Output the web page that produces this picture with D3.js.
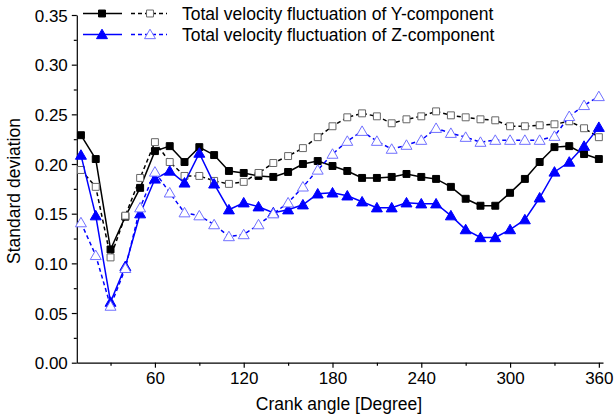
<!DOCTYPE html>
<head>
<meta charset="UTF-8">
<script src="https://d3js.org/d3.v7.min.js"></script>
<style>
  body { margin: 0; background: #fff; }
  text { font-family: Arial, "Liberation Sans", sans-serif; fill: #000; }
</style>
</head>
<body>
<svg width="614" height="415"></svg>
<script>
// Crank angle categories
var angles = [10, 20, 30, 40, 50, 60, 70, 80, 90, 100, 110, 120, 130, 140, 150, 160, 170, 180,
              190, 200, 210, 220, 230, 240, 250, 260, 270, 280, 290, 300, 310, 320, 330, 340, 350, 360];

// Y-component (solid, filled squares)
var yFilled = [0.229, 0.205, 0.114, 0.147, 0.176, 0.213, 0.218, 0.202, 0.217, 0.209, 0.193, 0.191,
               0.188, 0.187, 0.192, 0.200, 0.203, 0.198, 0.193, 0.186, 0.186, 0.187, 0.190, 0.187,
               0.185, 0.177, 0.165, 0.158, 0.158, 0.171, 0.185, 0.202, 0.217, 0.218, 0.210, 0.205];
// Y-component (dashed, open squares)
var yOpen = [0.194, 0.177, 0.106, 0.148, 0.186, 0.222, 0.202, 0.188, 0.188, 0.183, 0.180, 0.182,
             0.191, 0.201, 0.208, 0.216, 0.227, 0.238, 0.247, 0.251, 0.248, 0.241, 0.245, 0.248,
             0.253, 0.249, 0.247, 0.245, 0.244, 0.238, 0.238, 0.239, 0.240, 0.243, 0.236, 0.227];
// Z-component (solid, filled triangles)
var zFilled = [0.209, 0.148, 0.061, 0.097, 0.150, 0.185, 0.193, 0.181, 0.211, 0.180, 0.154, 0.161,
               0.157, 0.151, 0.154, 0.159, 0.170, 0.171, 0.168, 0.162, 0.156, 0.156, 0.161, 0.160,
               0.160, 0.148, 0.134, 0.126, 0.126, 0.134, 0.144, 0.166, 0.192, 0.202, 0.218, 0.237];
// Z-component (dashed, open triangles)
var zOpen = [0.141, 0.108, 0.057, 0.095, 0.156, 0.192, 0.171, 0.151, 0.148, 0.139, 0.127, 0.129,
             0.139, 0.150, 0.161, 0.177, 0.194, 0.210, 0.223, 0.233, 0.223, 0.215, 0.219, 0.224,
             0.236, 0.231, 0.227, 0.222, 0.224, 0.224, 0.224, 0.224, 0.228, 0.248, 0.259, 0.268];

var xTicks = [60, 120, 180, 240, 300, 360];
var xMinor = [30, 90, 150, 210, 270, 330];
var yTicks = [0.00, 0.05, 0.10, 0.15, 0.20, 0.25, 0.30, 0.35];
var yMinor = [0.025, 0.075, 0.125, 0.175, 0.225, 0.275, 0.325];

var legendLabels = ["Total velocity fluctuation of Y-component",
                    "Total velocity fluctuation of Z-component"];

var svg = d3.select("svg");

var x = d3.scaleLinear().domain([7.2, 362.8]).range([76.8, 603]);
var y = d3.scaleLinear().domain([0, 0.35]).range([362.7, 15]);

// Axes
var xAxis = svg.append("g").attr("transform", "translate(0,362.7)")
  .call(d3.axisBottom(x).tickValues(xTicks).tickSize(5).tickSizeOuter(0).tickPadding(3).tickFormat(d3.format("d")));
var xAxisMinor = svg.append("g").attr("transform", "translate(0,362.7)")
  .call(d3.axisBottom(x).tickValues(xMinor).tickSize(3).tickSizeOuter(0).tickFormat(""));
var yAxis = svg.append("g").attr("transform", "translate(76.8,0)")
  .call(d3.axisLeft(y).tickValues(yTicks).tickSize(5).tickSizeOuter(0).tickPadding(4).tickFormat(d3.format(".2f")));
var yAxisMinor = svg.append("g").attr("transform", "translate(76.8,0)")
  .call(d3.axisLeft(y).tickValues(yMinor).tickSize(3).tickSizeOuter(0).tickFormat(""));

xAxisMinor.select(".domain").remove();
yAxisMinor.select(".domain").remove();

svg.selectAll(".tick line, .domain").attr("stroke", "#000").attr("stroke-width", 1.2);
svg.selectAll(".tick text").attr("font-size", "17px").attr("font-family", "Arial, 'Liberation Sans', sans-serif");
xAxis.selectAll(".tick text").attr("dy", "0.8em");
yAxis.selectAll(".tick text").attr("dy", "0.36em");

svg.append("text").attr("x", 339).attr("y", 410).attr("text-anchor", "middle")
  .attr("font-size", "17.5px").text("Crank angle [Degree]");
svg.append("text").attr("transform", "translate(20,191) rotate(-90)").attr("text-anchor", "middle")
  .attr("font-size", "17.5px").text("Standard deviation");

// Series definitions (styles only)
var series = [
  {vals: yFilled, color: "#000", dash: null, shape: "square", fill: "#000", stroke: "#000"},
  {vals: yOpen, color: "#000", dash: "4,3", shape: "square", fill: "#fff", stroke: "#666"},
  {vals: zFilled, color: "#0000ff", dash: null, shape: "triangle", fill: "#0000ff", stroke: "#0000ff"},
  {vals: zOpen, color: "#0000ff", dash: "4,3", shape: "triangle", fill: "#fff", stroke: "#7070ff"}
];

var line = d3.line().x(function(d) { return x(d[0]); }).y(function(d) { return y(d[1]); });

function symbolPath(shape) {
  if (shape == "square") return d3.symbol().type(d3.symbolSquare).size(48)();
  return d3.symbol().type(d3.symbolTriangle).size(52)();
}

series.forEach(function(s) {
  var pts = angles.map(function(a, i) { return [a, s.vals[i]]; });
  svg.append("path")
    .attr("d", line(pts))
    .attr("fill", "none")
    .attr("stroke", s.color)
    .attr("stroke-width", 1.5)
    .attr("stroke-dasharray", s.dash);
  svg.append("g").selectAll("path")
    .data(pts).enter()
    .append("path")
    .attr("d", symbolPath(s.shape))
    .attr("transform", function(d) { return "translate(" + x(d[0]) + "," + (y(d[1]) + (s.shape == "triangle" ? 1 : 0)) + ")"; })
    .attr("fill", s.fill)
    .attr("stroke", s.stroke)
    .attr("stroke-width", 1);
});

// Legend
var legendRows = [[series[0], series[1]], [series[2], series[3]]];
legendRows.forEach(function(row, i) {
  var ly = 13.5 + i * 21;
  var g = svg.append("g");
  g.append("line").attr("x1", 83).attr("x2", 122).attr("y1", ly).attr("y2", ly)
    .attr("stroke", row[0].color).attr("stroke-width", 1.5);
  g.append("path").attr("d", symbolPath(row[0].shape))
    .attr("transform", "translate(102," + (ly + (row[0].shape == "triangle" ? 1 : 0)) + ")")
    .attr("fill", row[0].fill).attr("stroke", row[0].stroke);
  g.append("line").attr("x1", 131).attr("x2", 167).attr("y1", ly).attr("y2", ly)
    .attr("stroke", row[1].color).attr("stroke-width", 1.5).attr("stroke-dasharray", "4,3");
  g.append("path").attr("d", symbolPath(row[1].shape))
    .attr("transform", "translate(150," + (ly + (row[1].shape == "triangle" ? 1 : 0)) + ")")
    .attr("fill", row[1].fill).attr("stroke", row[1].stroke);
  g.append("text").attr("x", 182).attr("y", ly + 6).attr("font-size", "17.5px").text(legendLabels[i]);
});
</script>
</body>
